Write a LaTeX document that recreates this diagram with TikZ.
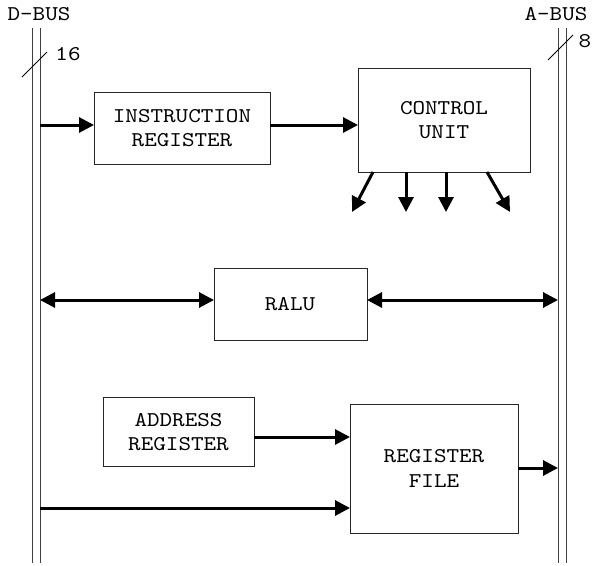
\documentclass[tikz,border=0pt]{standalone}
\usepackage{fontspec}
\newfontfamily\lmtt[Extension=.otf, FakeStretch=1.14]{lmmono10-regular}
\usetikzlibrary{arrows.meta}
\begin{document}
\begin{tikzpicture}[x=1pt,y=-1pt,
  lbl/.style={font=\lmtt\fontsize{21}{24.5}\selectfont, inner sep=0pt, align=center},
  unit/.style={draw=black!85, line width=1pt},
  bus/.style={draw=black!75, line width=1pt},
  flow/.style={line width=3pt, -{Triangle[length=15pt,width=15pt]}},
  bflow/.style={line width=3pt, {Triangle[length=15pt,width=15pt]}-{Triangle[length=15pt,width=15pt]}},
  tick/.style={line width=0.8pt}]
\useasboundingbox (0,0) rectangle (593,565);
% buses
\draw[bus] (32,28) -- (32,563);
\draw[bus] (40,28) -- (40,563);
\draw[bus] (558,28) -- (558,563);
\draw[bus] (566,28) -- (566,563);
\node[lbl] (dbus) at (39,14) {D-BUS};
\node[lbl] (abus) at (556,14) {A-BUS};
\draw[tick] (22,77) -- (47,52);
\node[lbl] (w16) at (68,54) {16};
\draw[tick] (548,60) -- (573,35);
\node[lbl] (w8) at (585,41) {8};
% boxes
\draw[unit] (94,92) rectangle (270,164);
\node[lbl] (ir) at (182,128) {INSTRUCTION\\REGISTER};
\draw[unit] (358,68) rectangle (530,172);
\node[lbl] (cu) at (444,120) {CONTROL\\UNIT};
\draw[unit] (214,268) rectangle (367,340);
\node[lbl] (ralu) at (290,304) {RALU};
\draw[unit] (103,397) rectangle (254,466);
\node[lbl] (ar) at (178.5,432) {ADDRESS\\REGISTER};
\draw[unit] (350,404) rectangle (518,533);
\node[lbl] (rf) at (434,468.5) {REGISTER\\FILE};
% coordinates
\coordinate (d1) at (40,125);
\coordinate (ire) at (270,125);
\coordinate (irw) at (94,125);
\coordinate (cuw) at (358,125);
\coordinate (d2) at (40,300);
\coordinate (rw) at (214,300);
\coordinate (re) at (367,300);
\coordinate (a2) at (558,300);
\coordinate (are) at (254,437);
\coordinate (rfw1) at (350,437);
\coordinate (d3) at (40,508);
\coordinate (rfw2) at (350,508);
\coordinate (rfe) at (518,468);
\coordinate (a3) at (558,468);
\coordinate (c1) at (373,172);
\coordinate (c1e) at (352,212);
\coordinate (c2) at (406,172);
\coordinate (c2e) at (406,212);
\coordinate (c3) at (446,172);
\coordinate (c3e) at (446,212);
\coordinate (c4) at (487,172);
\coordinate (c4e) at (510,212);
% arrows
\draw[flow] (d1) -- (irw);
\draw[flow] (ire) -- (cuw);
\draw[flow] (c1) -- (c1e);
\draw[flow] (c2) -- (c2e);
\draw[flow] (c3) -- (c3e);
\draw[flow] (c4) -- (c4e);
\draw[bflow] (d2) -- (rw);
\draw[bflow] (re) -- (a2);
\draw[flow] (are) -- (rfw1);
\draw[flow] (d3) -- (rfw2);
\draw[flow] (rfe) -- (a3);
\end{tikzpicture}
\end{document}
